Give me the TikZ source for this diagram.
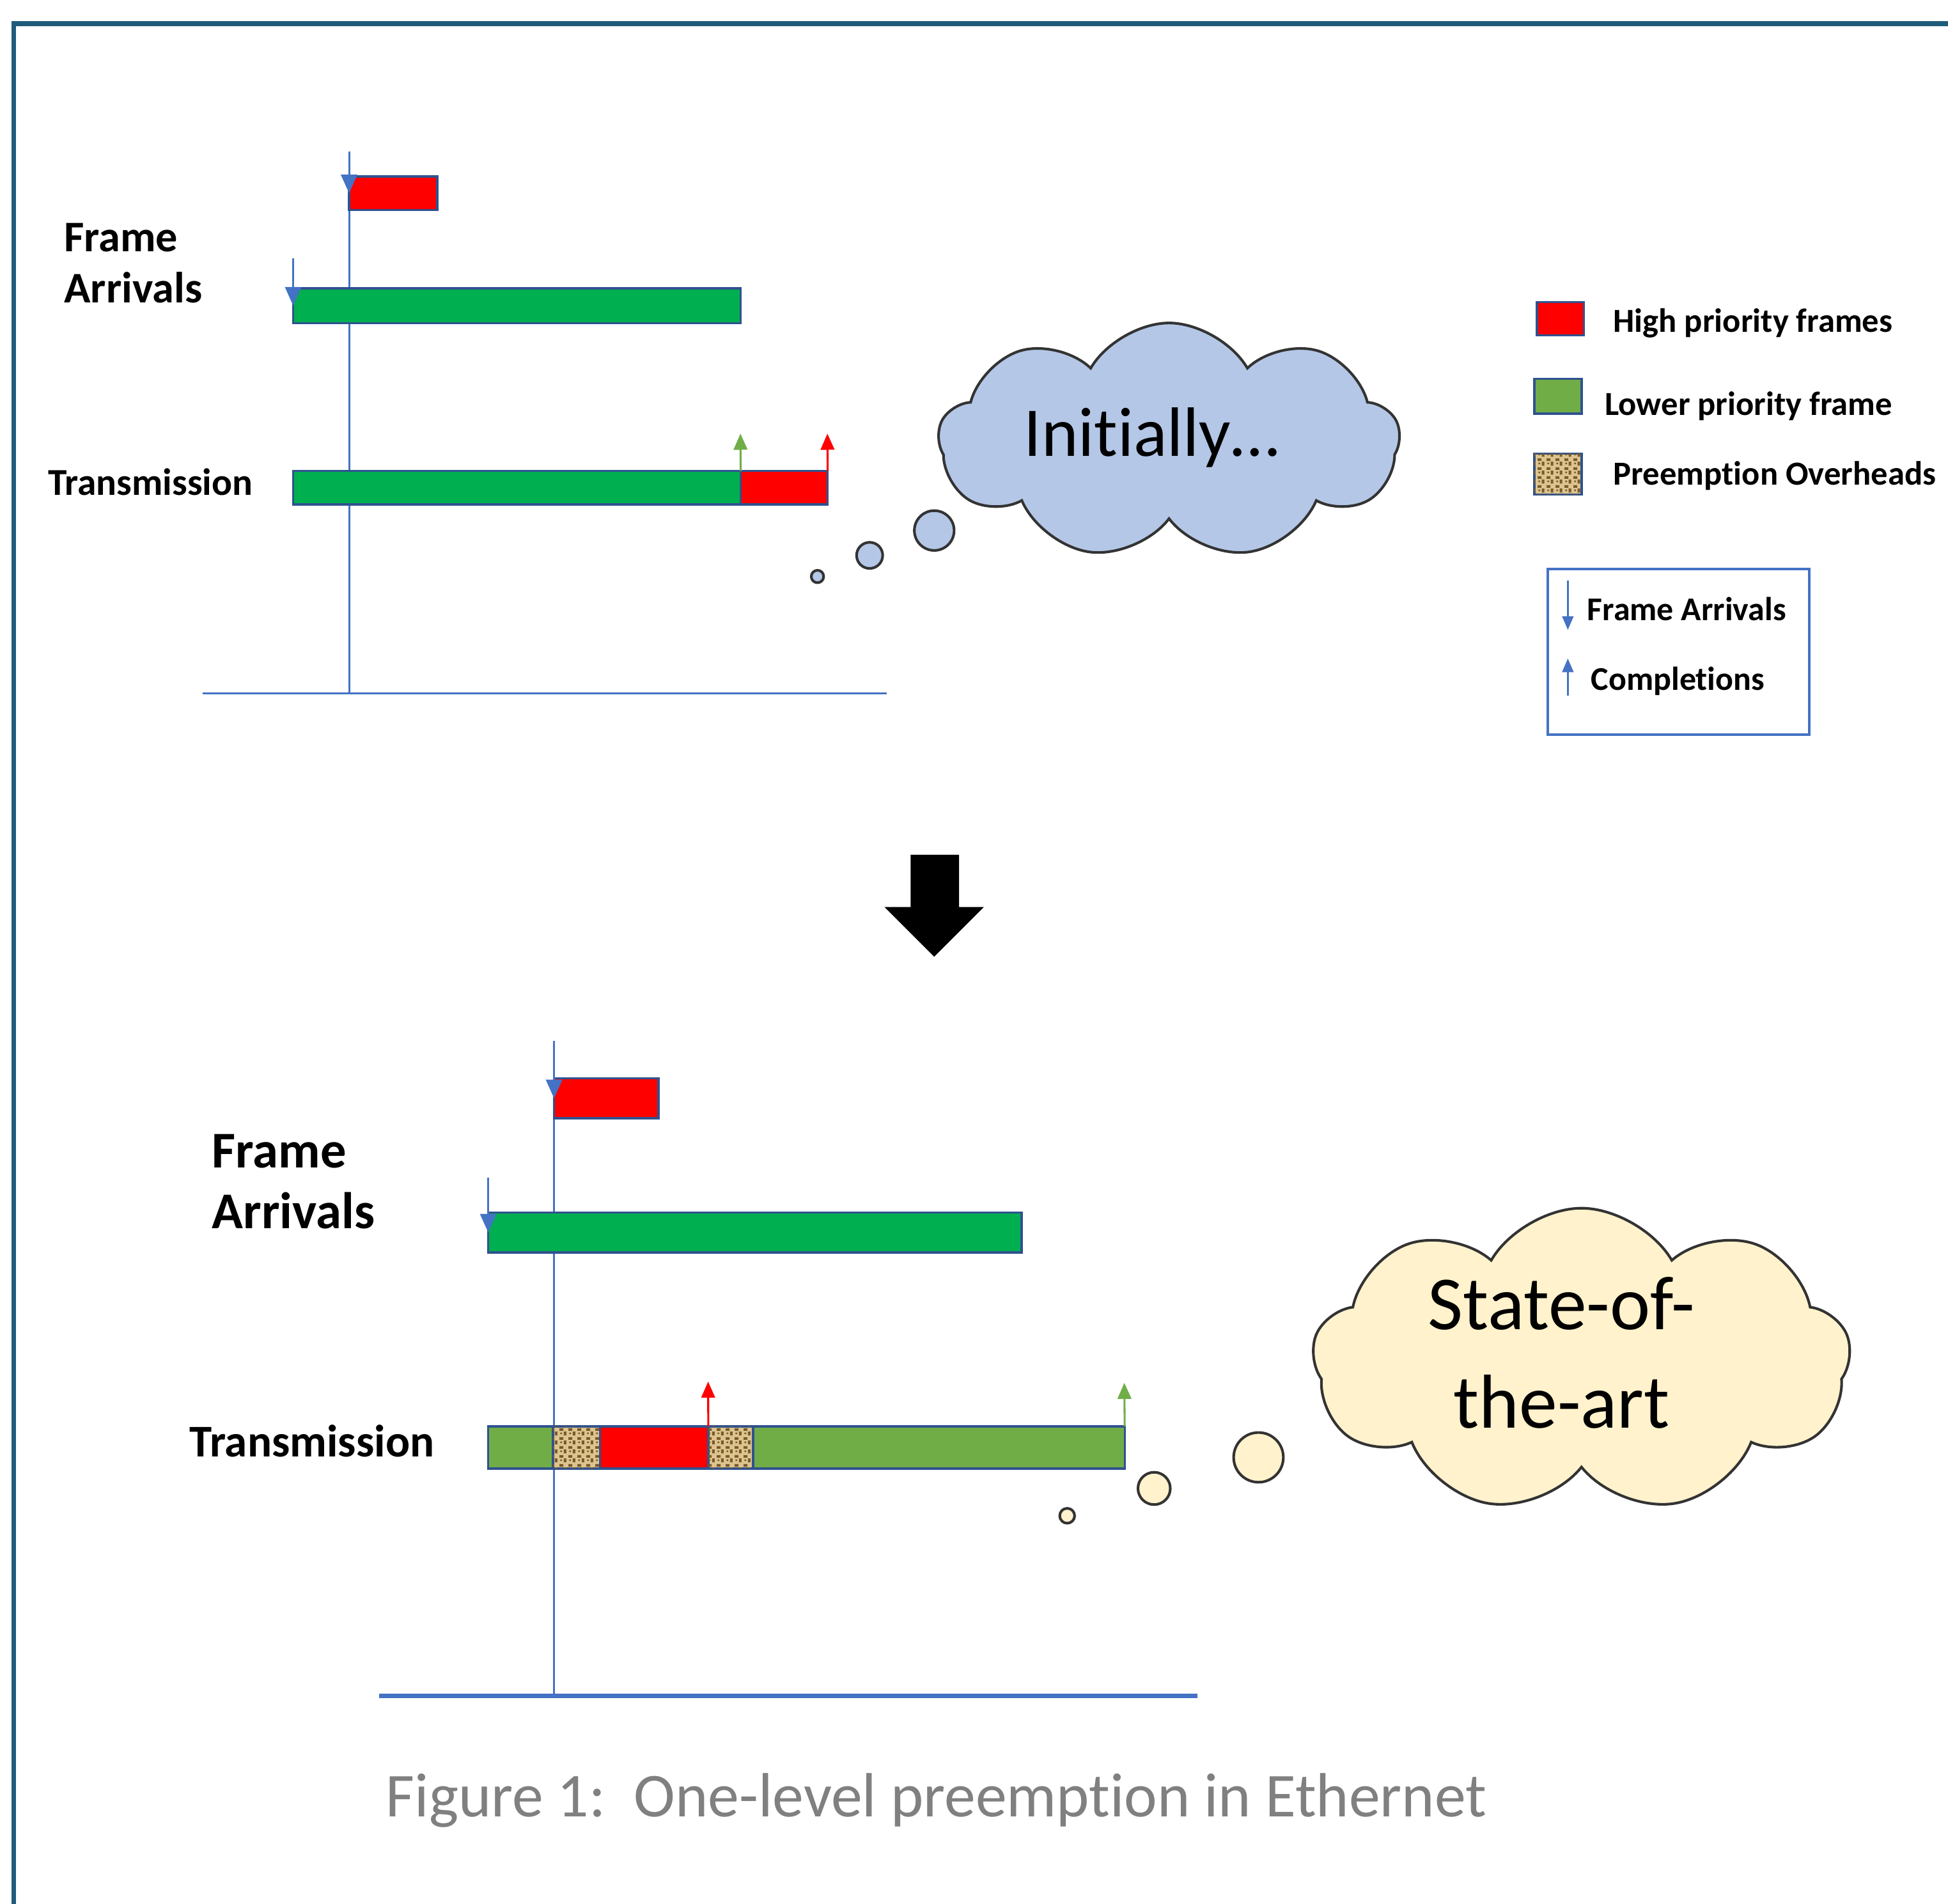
\documentclass[tikz,border=0pt]{standalone}
\usepackage{fontspec}
\setmainfont{Carlito}[Ligatures=NoCommon]
\usetikzlibrary{shapes.symbols}
\usetikzlibrary{arrows.meta}
\usetikzlibrary{positioning}
\usetikzlibrary{patterns}
\definecolor{hpred}{HTML}{FF0000}
\definecolor{arrgreen}{HTML}{00B050}
\definecolor{lpgreen}{HTML}{70AD47}
\definecolor{barline}{HTML}{2F528F}
\definecolor{axisblue}{HTML}{4472C4}
\definecolor{framebord}{HTML}{1F5C7B}
\definecolor{cloudblue}{HTML}{B4C7E7}
\definecolor{cloudcream}{HTML}{FFF2CC}
\definecolor{burlap}{HTML}{DCC48F}
\definecolor{burlapdark}{HTML}{7A5A2A}
\definecolor{capgray}{HTML}{808080}
% little weave for the overhead blocks
\pgfdeclarepatternformonly{weave}{\pgfpointorigin}{\pgfpoint{2pt}{2pt}}{\pgfpoint{2pt}{2pt}}{
	\pgfpathrectangle{\pgfpoint{0pt}{0pt}}{\pgfpoint{0.9pt}{0.6pt}}
	\pgfpathrectangle{\pgfpoint{1pt}{1pt}}{\pgfpoint{0.6pt}{0.9pt}}
	\pgfpathrectangle{\pgfpoint{0.2pt}{1.3pt}}{\pgfpoint{0.4pt}{0.4pt}}
	\pgfusepath{fill}
}
\tikzset{bar/.style={draw=barline,fill=#1,line width=0.5pt,inner sep=0pt,outer sep=0pt,minimum height=0.27cm},bar/.default=hpred}
\tikzset{overhead/.style={bar=burlap,postaction={pattern=weave,pattern color=burlapdark}}}
\tikzset{axis/.style={color=axisblue,line width=#1},axis/.default=0.45pt}
\tikzset{arrive/.style={axisblue,line width=0.45pt,-{Triangle[width=1.3mm,length=1.5mm]}}}
\tikzset{keyarrow/.style={axisblue,line width=0.45pt,-{Triangle[width=0.9mm,length=1.1mm]}}}
\tikzset{done/.style={color=#1,line width=0.45pt,-{Triangle[width=1.1mm,length=1.3mm]}}}
\tikzset{thought/.style={cloud,cloud puffs=9,cloud puff arc=120,aspect=2,draw=black!80,line width=0.6pt,fill=#1,inner sep=0pt}}
\tikzset{bubble/.style={draw=black!80,line width=0.6pt,fill=#1}}
\tikzset{rowname/.style={inner sep=0pt,anchor=west,align=left,font=\bfseries}}

\begin{document}
\begin{tikzpicture}[x=0.01cm,y=-0.01cm]
	\useasboundingbox (0,0) rectangle (1568,1532);

	% page frame
	\draw [framebord,line width=1.1pt] (11,1540) -- (11,19) -- (1580,19);

	% ---------- initially ----------
	\draw [axis] (281,122) -- (281,558);
	\draw [axis] (163,558) -- (714,558);

	\node [bar=hpred,minimum width=0.71cm,anchor=north west] (hpA) at (281,142) {};
	\node [bar=arrgreen,minimum width=3.6cm,minimum height=0.28cm,anchor=north west] (lpA) at (236,232) {};
	\node [bar=arrgreen,minimum width=3.6cm,anchor=north west] (txA1) at (236,379) {};
	\node [bar=hpred,minimum width=0.7cm,right=0pt of txA1] (txA2) {};

	\coordinate (hpA-in) at (281,122);
	\coordinate (lpA-in) at (236,208);
	\draw [arrive] (hpA-in) -- (hpA.west);
	\draw [arrive] (lpA-in) -- (lpA.west);

	\coordinate (txA1-out) at (596,349);
	\coordinate (txA2-out) at (666,349);
	\draw [done=lpgreen] (txA1.north east) -- (txA1-out);
	\draw [done=hpred] (txA2.north east) -- (txA2-out);

	\node [rowname,font=\fontsize{10}{11.7}\selectfont\bfseries] (faA) at (51,212) {Frame\\Arrivals};
	\node [rowname,font=\fontsize{8.7}{10}\selectfont\bfseries] (tmA) at (38,388) {Transmission};

	% thought of the first case
	\draw [bubble=cloudblue] (658,464) circle (0.05cm);
	\draw [bubble=cloudblue] (700,447) circle (0.105cm);
	\draw [bubble=cloudblue] (752,427) circle (0.16cm);
	\node [thought=cloudblue,minimum width=3.71cm,minimum height=1.9cm] (init) at (941,355) {};
	\node [font=\fontsize{16}{19}\selectfont] (inittext) at (927,352) {Initially…};

	% ---------- legend ----------
	\node [bar=hpred,minimum width=0.38cm,anchor=north west] (keyhp) at (1237,243) {};
	\node [bar=lpgreen,minimum width=0.38cm,minimum height=0.28cm,anchor=north west] (keylp) at (1235,305) {};
	\node [overhead,minimum width=0.38cm,minimum height=0.33cm,anchor=north west] (keyov) at (1235,365) {};
	\node [rowname,font=\fontsize{7.7}{9}\selectfont\bfseries] (keyhptext) at (1298,260) {High priority frames};
	\node [rowname,font=\fontsize{7.7}{9}\selectfont\bfseries] (keylptext) at (1291,327) {Lower priority frame};
	\node [rowname,font=\fontsize{7.7}{9}\selectfont\bfseries] (keyovtext) at (1298,383) {Preemption Overheads};

	\node [draw=axisblue,line width=0.6pt,minimum width=2.1cm,minimum height=1.33cm,anchor=north west] (keybox) at (1245,457) {};
	\coordinate (keydn-a) at (1262,467);
	\coordinate (keydn-b) at (1262,507);
	\coordinate (keyup-a) at (1262,560);
	\coordinate (keyup-b) at (1262,530);
	\draw [keyarrow] (keydn-a) -- (keydn-b);
	\draw [keyarrow] (keyup-a) -- (keyup-b);
	\node [rowname,font=\fontsize{7.6}{9}\selectfont\bfseries] (keyfa) at (1277,490) {Frame Arrivals};
	\node [rowname,font=\fontsize{7.6}{9}\selectfont\bfseries] (keycp) at (1280,548) {Completions};

	% big arrow
	\fill [black] (733,688) -- (772,688) -- (772,730) -- (792,730) -- (752,770) -- (712,730) -- (733,730) -- cycle;

	% ---------- state of the art ----------
	\draw [axis] (446,838) -- (446,1365);
	\draw [axis=0.9pt] (305,1365) -- (964,1365);

	\node [bar=hpred,minimum width=0.84cm,minimum height=0.32cm,anchor=north west] (hpB) at (446,868) {};
	\node [bar=arrgreen,minimum width=4.29cm,minimum height=0.32cm,anchor=north west] (lpB) at (393,976) {};

	\node [bar=lpgreen,minimum width=0.52cm,minimum height=0.34cm,anchor=north west] (txB1) at (393,1148) {};
	\node [overhead,minimum width=0.38cm,minimum height=0.34cm,right=0pt of txB1] (txB2) {};
	\node [bar=hpred,minimum width=0.87cm,minimum height=0.34cm,right=0pt of txB2] (txB3) {};
	\node [overhead,minimum width=0.36cm,minimum height=0.34cm,right=0pt of txB3] (txB4) {};
	\node [bar=lpgreen,minimum width=2.99cm,minimum height=0.34cm,right=0pt of txB4] (txB5) {};

	\coordinate (hpB-in) at (446,838);
	\coordinate (lpB-in) at (393,948);
	\draw [arrive] (hpB-in) -- (hpB.west);
	\draw [arrive] (lpB-in) -- (lpB.west);

	\coordinate (txB3-out) at (570,1112);
	\coordinate (txB5-out) at (905,1113);
	\draw [done=hpred] (txB3.north east) -- (txB3-out);
	\draw [done=lpgreen] (txB5.north east) -- (txB5-out);

	\node [rowname,font=\fontsize{11.8}{13.9}\selectfont\bfseries] (faB) at (170,951) {Frame\\Arrivals};
	\node [rowname,font=\fontsize{10.4}{12}\selectfont\bfseries] (tmB) at (152,1160) {Transmission};

	% thought of the second case
	\draw [bubble=cloudcream] (859,1220) circle (0.06cm);
	\draw [bubble=cloudcream] (929,1198) circle (0.13cm);
	\draw [bubble=cloudcream] (1013,1173) circle (0.2cm);
	\node [thought=cloudcream,minimum width=4.33cm,minimum height=2.45cm] (soa) at (1273,1095) {};
	\node [align=center,font=\fontsize{17.5}{22.5}\selectfont] (soatext) at (1257,1089) {State-of-\\the-art};

	% caption
	\node [anchor=base west,inner sep=0pt,text=capgray,font=\fontsize{14.3}{17}\selectfont] (cap) at (310,1462) {Figure 1:\ \ One-level preemption in Ethernet};

\end{tikzpicture}
\end{document}
